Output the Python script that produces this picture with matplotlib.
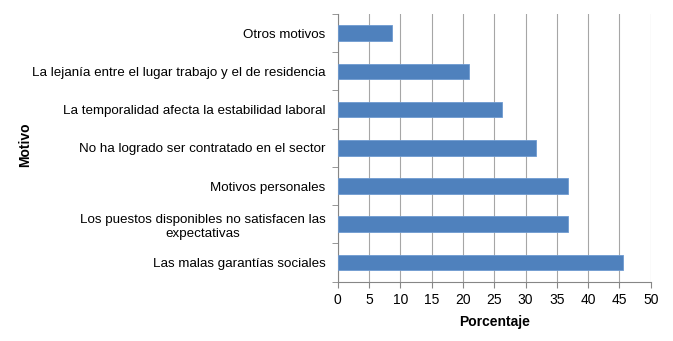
import numpy as np
import matplotlib.pyplot as plt
import matplotlib.ticker as ticker

plt.rcParams['font.family'] = ['Liberation Sans', 'DejaVu Sans']

motivos = ['Las malas garantías sociales',
           'Los puestos disponibles no satisfacen las\nexpectativas',
           'Motivos personales',
           'No ha logrado ser contratado en el sector',
           'La temporalidad afecta la estabilidad laboral',
           'La lejanía entre el lugar trabajo y el de residencia',
           'Otros motivos']
porcentaje = [45.6, 36.8, 36.8, 31.6, 26.3, 21.0, 8.7]

fig = plt.figure(figsize=(6.73, 3.41), dpi=100)
ax = fig.add_axes([0.502, 0.174, 0.465, 0.785])

pos = np.arange(len(motivos))
ax.barh(pos, porcentaje, height=0.41, color='#4f81bd', edgecolor='#6f9bd1', linewidth=0.6, zorder=3)

ax.set_xlim(0, 50)
ax.set_ylim(-0.5, len(motivos) - 0.5)
ax.xaxis.set_major_locator(ticker.MultipleLocator(5))
ax.set_yticks(pos)
ax.set_yticklabels(motivos, fontsize=9.6, ha='right', multialignment='center')
ax.yaxis.set_minor_locator(ticker.FixedLocator(np.arange(-0.5, len(motivos), 1)))
ax.tick_params(axis='y', which='major', length=0, pad=9)
ax.tick_params(axis='y', which='minor', length=4, color='#868686', direction='out')
ax.tick_params(axis='x', length=4, color='#868686', labelsize=10, pad=4)
ax.grid(axis='x', color='#a6a6a6', linewidth=0.8, zorder=0)

for s in ['top', 'right']:
    ax.spines[s].set_visible(False)
for s in ['left', 'bottom']:
    ax.spines[s].set_color('#868686')

ax.set_xlabel('Porcentaje', fontsize=10, fontweight='bold', labelpad=6)
fig.text(0.037, 0.575, 'Motivo', rotation=90, fontsize=10, fontweight='bold', ha='center', va='center')

plt.savefig('out.png', dpi=100)
plt.close()
